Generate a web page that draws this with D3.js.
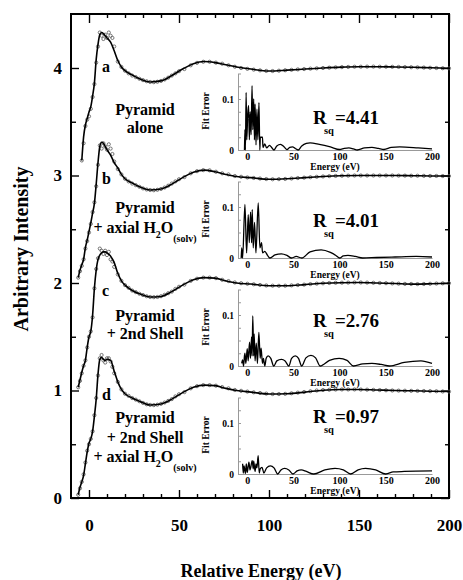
<!DOCTYPE html>
<meta charset="utf-8">
<body style="margin:0;background:#fff">
<style>
svg, svg text { font-family: "Liberation Serif", "Times New Roman", serif; font-weight: bold; }
.frame { fill: none; stroke: #000; stroke-width: 2px; }
.tick line { stroke: #000; stroke-width: 1.4px; }
.fit { fill: none; stroke: #000; stroke-width: 1.6px; }
.exp { fill: none; stroke: #555; stroke-width: 0.8px; }
.err { fill: none; stroke: #000; stroke-width: 1.3px; }
.iax line, .iax path { stroke: #999; stroke-width: 1px; }
</style>
<script src="https://cdn.jsdelivr.net/npm/d3@7"></script>
<script>

// stacked spectra: offset of each trace
var offsets = [3, 2, 1, 0];
var letters = ["a", "b", "c", "d"];
var rsq = ["4.41", "4.01", "2.76", "0.97"];

// experimental points (circles), energies shared by all four
var dataE = [-6,-5,-4,-3,-2,-1,0,1,2,3,4,5,6,7,8,9,10,11,12,13,14,
  16,18,20,22,24,26,28,30,32,34,36,38,40,42,44,46,48,50,
  53,56.5,60,63.5,67,70.5,74,77.5,81,84.5,88,91.5,95,98.5,102,105.5,109,112.5,116,119.5,
  123,126.5,130,133.5,137,140.5,144,147.5,151,154.5,158,161.5,165,168.5,172,175.5,179,
  182.5,186,189.5,193,196.5,200];

var dataA = [null,null,.14,.30,.46,.52,.55,.62,.73,.85,1.05,1.20,1.33,1.30,1.27,1.31,1.28,1.33,1.30,1.28,1.20,
  1.06,1.01,.975,.95,.93,.915,.90,.887,.877,.87,.868,.872,.88,.893,.91,.93,.95,.97,
  .99,1.025,1.048,1.058,1.058,1.05,1.04,1.025,1.012,1.0,.992,.985,.978,.973,.972,.975,.979,.983,.987,.99,
  .994,.997,1.0,1.003,1.006,1.008,1.01,1.012,1.012,1.013,1.013,1.012,1.012,1.011,1.01,1.008,1.007,
  1.006,1.004,1.002,1.0,.998,.997];

var dataB = [.05,.11,.16,.22,.32,.39,.47,.55,.66,.75,.90,1.10,1.28,1.25,1.30,1.27,1.24,1.29,1.25,1.20,1.13,
  1.06,1.01,.97,.945,.925,.91,.895,.88,.87,.865,.863,.867,.875,.888,.905,.925,.945,.965,
  .985,1.02,1.04,1.05,1.048,1.035,1.02,1.01,.995,.988,.982,.977,.972,.967,.965,.966,.968,.972,.976,.98,
  .984,.988,.991,.994,.996,.998,.999,1.0,1.0,1.0,1.0,1.0,1.0,1.0,.999,.999,.998,
  .998,.997,.996,.996,.995,.995];

var dataC = [.03,.09,.16,.23,.28,.40,.50,.55,.68,.95,1.13,1.23,1.32,1.30,1.27,1.30,1.26,1.29,1.22,1.20,1.15,
  1.08,1.02,.98,.955,.93,.915,.90,.888,.877,.87,.868,.87,.877,.89,.905,.92,.945,.965,
  .985,1.02,1.04,1.05,1.05,1.045,1.03,1.018,1.005,.998,.993,.988,.982,.977,.975,.974,.975,.978,.981,.985,
  .99,.994,.997,1.0,1.002,1.003,1.004,1.005,1.005,1.004,1.002,1.0,.998,.996,.994,.992,.991,
  .99,.991,.993,.995,.997,.998];

var dataD = [.03,.09,.15,.22,.33,.44,.50,.55,.62,.77,.93,1.14,1.30,1.33,1.28,1.26,1.30,1.30,1.27,1.22,1.16,
  1.08,1.01,.97,.95,.93,.915,.90,.885,.872,.866,.864,.868,.876,.888,.903,.92,.945,.965,
  .985,1.02,1.04,1.05,1.05,1.045,1.032,1.02,1.005,.997,.99,.983,.977,.971,.967,.967,.969,.974,.98,.986,
  .993,1.0,1.004,1.007,1.009,1.01,1.01,1.01,1.009,1.008,1.006,1.004,1.002,1.0,.999,.998,.997,
  .996,.995,.994,.993,.991,.99];

// fitted curves (solid lines), knots shared by all four
var fitE = [-6,-5,-4,-3,-2,-1,0,1,2,3,4,5,6,7,8,9,10,12,14,16,18,20,
  24,28,34,40,46,52,58,64,70,76,82,90,100,110,120,130,140,150,160,170,180,190,200];

var fitA = [null,null,.14,.36,.47,.53,.59,.64,.74,.86,1.08,1.22,1.31,1.33,1.32,1.30,1.28,1.24,1.16,1.07,1.01,.975,
  .935,.90,.87,.88,.93,.99,1.04,1.06,1.05,1.03,1.01,.99,.972,.98,.99,1.0,1.008,1.012,1.012,1.01,1.007,1.002,.997];
var fitB = [.05,.12,.17,.22,.33,.40,.48,.56,.65,.74,.92,1.12,1.27,1.31,1.30,1.27,1.24,1.19,1.12,1.07,1.01,.97,
  .93,.895,.865,.875,.92,.98,1.03,1.05,1.035,1.01,.99,.98,.965,.97,.98,.99,.997,1.0,1.0,1.0,.998,.996,.995];
var fitC = [.03,.10,.17,.23,.28,.40,.50,.55,.70,.95,1.12,1.22,1.26,1.28,1.29,1.29,1.28,1.25,1.19,1.09,1.02,.98,
  .93,.90,.87,.875,.92,.98,1.03,1.05,1.045,1.02,1.0,.99,.975,.975,.985,.997,1.003,1.005,1.0,.995,.99,.993,.998];
var fitD = [.03,.10,.15,.21,.32,.43,.51,.55,.62,.76,.92,1.15,1.29,1.31,1.29,1.28,1.29,1.28,1.18,1.08,1.01,.97,
  .93,.90,.865,.875,.92,.98,1.03,1.05,1.045,1.02,1.0,.985,.967,.97,.985,1.003,1.01,1.01,1.005,1.0,.997,.993,.99];

// fit error insets, [energy, error]
var errA = [[-3,0],[-2.5,.04],[-2,0],[-1.2,.113],[-.5,.02],[.5,.07],[1.5,.087],[2.3,.02],[3.2,.075],[4.2,.03],
  [5.2,.126],[6,.04],[7,.1],[7.8,.02],[8.5,.09],[9.5,.01],[10.5,.08],[11.5,.02],[12.7,.093],[13.6,0],
  [14.2,.025],[16.5,.025],[17,.005],[19,.012],[21,.004],[24,.009],[26,.006],[29,0],[32,.008],[36,.011],
  [40,.006],[43,.001],[46,.005],[49,.006],[52,.003],[55,0],[59,.008],[64,.013],[68,.014],[78,.011],
  [90,.006],[100,.001],[105,.003],[110,.004],[115,.002],[119,0],[127,.004],[135,.005],[142,.003],
  [148,.001],[156,.005],[165,.006],[185,.004],[200,.002]];
var errB = [[-6.5,0],[-6,.02],[-5,0],[-2.5,.105],[-.7,.01],[1.1,.085],[2.2,.03],[3.6,.09],[4.7,.03],[5.4,.095],
  [6.5,.02],[7.9,.07],[9.4,.01],[11.9,.108],[13.7,.02],[15.5,.03],[16.6,.01],[19,.013],[22,.005],[24.5,0],
  [30,.006],[37,.008],[43,.005],[48,0],[53,.003],[59,0],[68,.012],[80,.016],[90,.011],[96,.005],[100,0],
  [104,.004],[109,.005],[117,.003],[125,0],[140,.001],[160,.002],[183,.003],[200,.002]];
var errC = [[-6,.005],[-5,.012],[-4,0],[-3,.02],[-2.5,.025],[-1.5,.005],[0,.034],[1,.01],[2.5,.047],[3.5,.015],
  [4.7,.057],[5.3,.02],[6,.098],[7,.02],[7.5,.063],[8.5,.01],[9.8,.045],[11,.005],[12.6,.066],[14,.015],
  [15,.035],[16.5,.005],[17.5,.015],[19,0],[20.5,.015],[22.6,.02],[25.5,.015],[28.7,0],[32,.01],[37,.013],
  [41,.01],[45,0],[48,.015],[52,.02],[55.5,.015],[59,0],[63.5,.016],[69,.021],[74,.016],[79,0],[89,.011],
  [99.5,.015],[108,.011],[115,0],[125,.004],[135,.005],[145,.003],[154,0],[170,.007],[188,.01],[200,.005]];
var errD = [[-5,.02],[-4.3,.002],[-3.5,.016],[-2,.001],[-1,.02],[0,.003],[1.8,.023],[3,.008],[5.4,.026],
  [6.5,.01],[7,.025],[8.5,.005],[9.5,.02],[10.5,.012],[11.8,.036],[13,.002],[14,.01],[16,.013],[18,.002],
  [21,.012],[25,.016],[29,.012],[33,0],[36.5,.008],[40.5,.011],[45,.008],[49.5,0],[54,.006],[58.5,.008],
  [64,.005],[72,0],[84,.008],[95,.011],[104,.008],[112,0],[120,.008],[128,.011],[139,.008],[150,0],
  [158,.004],[170,.005],[200,.006]];

var dataSets = [dataA, dataB, dataC, dataD];
var fitSets = [fitA, fitB, fitC, fitD];
var errSets = [errA, errB, errC, errD];

// layout
var W = 463, H = 580;
var insetBase = [150, 258, 366, 474];
var rsqY = [124, 227, 327, 423];
var letterY = [72, 184, 296, 400];
var descr = [
  {y: [115, 133], lines: ["Pyramid", "alone"]},
  {y: [213, 233], lines: ["Pyramid", "H2O"]},
  {y: [321, 339], lines: ["Pyramid", "+ 2nd Shell"]},
  {y: [423, 443, 462], lines: ["Pyramid", "+ 2nd Shell", "H2O"]}
];
var serif = "'Liberation Serif', 'Times New Roman', serif";

var svg = d3.select("body").append("svg")
    .attr("width", W)
    .attr("height", H);

var x = d3.scaleLinear().domain([-10, 200]).range([71, 449]);
var y = d3.scaleLinear().domain([0, 4.5]).range([498, 14.25]);

var xMajor = [0, 50, 100, 150, 200];
var xMinor = d3.range(10, 200, 10).filter(function(d) { return d % 50; });
var yMajor = [0, 1, 2, 3, 4];
var yMinor = [0.5, 1.5, 2.5, 3.5];

function ax(gen, vals, size, tx, ty, fmt, pad) {
  var g = svg.append("g")
      .attr("transform", "translate(" + tx + "," + ty + ")")
      .call(gen.tickValues(vals).tickSize(size).tickSizeOuter(0)
        .tickPadding(pad || 3).tickFormat(fmt || ""));
  g.select(".domain").remove();
  g.attr("font-family", serif).attr("font-weight", "bold");
  return g;
}

// bottom
var xb = ax(d3.axisBottom(x), xMajor, -8, 0, 498, d3.format("d"), 21);
xb.selectAll("text").attr("font-size", 17).attr("fill", "#000");
ax(d3.axisBottom(x), xMinor, -4, 0, 498);
// top
ax(d3.axisTop(x), xMajor, -9, 0, 14);
ax(d3.axisTop(x), xMinor, -4, 0, 14);
// left
var yl = ax(d3.axisLeft(y), yMajor, -8, 71, 0, d3.format("d"), 9);
yl.selectAll("text").attr("font-size", 17).attr("fill", "#000");
ax(d3.axisLeft(y), yMinor, -5, 71, 0);
// right
ax(d3.axisRight(y), yMajor, -8, 449, 0);
ax(d3.axisRight(y), yMinor, -4, 449, 0);

svg.append("rect").attr("class", "frame")
    .attr("x", 71).attr("y", 14).attr("width", 378).attr("height", 484);

svg.append("text")
    .attr("transform", "translate(28,249) rotate(-90)")
    .attr("text-anchor", "middle")
    .attr("font-size", 20)
    .text("Arbitrary Intensity");

svg.append("text")
    .attr("x", 261).attr("y", 577)
    .attr("text-anchor", "middle")
    .attr("font-size", 18)
    .text("Relative Energy (eV)");

// spectra
offsets.forEach(function(off, i) {
  var fit = fitE.map(function(e, k) { return [e, fitSets[i][k]]; })
      .filter(function(p) { return p[1] != null; });
  var pts = dataE.map(function(e, k) { return [e, dataSets[i][k]]; })
      .filter(function(p) { return p[1] != null; });

  svg.append("g").selectAll("circle")
      .data(pts)
    .enter().append("circle")
      .attr("class", "exp")
      .attr("r", 1.6)
      .attr("cx", function(d) { return x(d[0]); })
      .attr("cy", function(d) { return y(d[1] + off); });

  svg.append("path")
      .datum(fit)
      .attr("class", "fit")
      .attr("d", d3.line()
        .x(function(d) { return x(d[0]); })
        .y(function(d) { return y(d[1] + off); })
        .curve(d3.curveMonotoneX));

  svg.append("text")
      .attr("x", 102).attr("y", letterY[i])
      .attr("font-size", 16)
      .text(letters[i]);

  var ds = descr[i];
  ds.lines.forEach(function(line, j) {
    var t = svg.append("text")
        .attr("x", 145).attr("y", ds.y[j])
        .attr("text-anchor", "middle")
        .attr("font-size", 16);
    if (line === "H2O") {
      t.append("tspan").text("+ axial H");
      t.append("tspan").attr("font-size", 10).attr("dy", 5).text("2");
      t.append("tspan").attr("dy", -5).text("O");
      t.append("tspan").attr("font-size", 10).attr("dy", 9).text("(solv)");
    } else {
      t.text(line);
    }
  });

  // inset
  var base = insetBase[i];
  var ix = d3.scaleLinear().domain([-10, 200]).range([238, 432]);
  var iy = d3.scaleLinear().domain([0, 0.15]).range([base, base - 76.5]);

  var gl = svg.append("g").attr("class", "iax")
      .attr("transform", "translate(238,0)")
      .attr("font-family", serif).attr("font-weight", "bold")
      .call(d3.axisLeft(iy).tickValues(d3.range(0, 0.151, 0.025))
        .tickSize(-3).tickSizeOuter(0).tickPadding(4)
        .tickFormat(function(d) { return Math.abs(d) < 1e-9 ? "0" : Math.abs(d - 0.1) < 1e-9 ? "0.1" : ""; }));
  gl.selectAll("text").attr("font-size", 9.5).attr("fill", "#000");

  var gb = svg.append("g").attr("class", "iax")
      .attr("transform", "translate(0," + base + ")")
      .call(d3.axisBottom(ix).tickValues(xMajor).tickSize(0).tickSizeOuter(0).tickPadding(3)
        .tickFormat(d3.format("d")));
  gb.attr("font-family", serif).attr("font-weight", "bold");
  gb.selectAll("text").attr("font-size", 10).attr("fill", "#000");

  svg.append("text")
      .attr("x", ix(95)).attr("y", base + 20)
      .attr("text-anchor", "middle")
      .attr("font-size", 9.5)
      .text("Energy (eV)");

  svg.append("text")
      .attr("transform", "translate(209," + (base - 39) + ") rotate(-90)")
      .attr("text-anchor", "middle")
      .attr("font-size", 9.5)
      .text("Fit Error");

  svg.append("path")
      .datum(errSets[i])
      .attr("class", "err")
      .attr("d", d3.line()
        .x(function(d) { return ix(d[0]); })
        .y(function(d) { return iy(d[1]); })
        .curve(d3.curveMonotoneX));

  var rt = svg.append("text").attr("y", rsqY[i]).attr("font-size", 19);
  rt.append("tspan").attr("x", 313).text("R");
  rt.append("tspan").attr("x", 324).attr("dy", 10).attr("font-size", 10.5).text("sq");
  rt.append("tspan").attr("x", 335).attr("dy", -10).text("=" + rsq[i]);
});

</script>
